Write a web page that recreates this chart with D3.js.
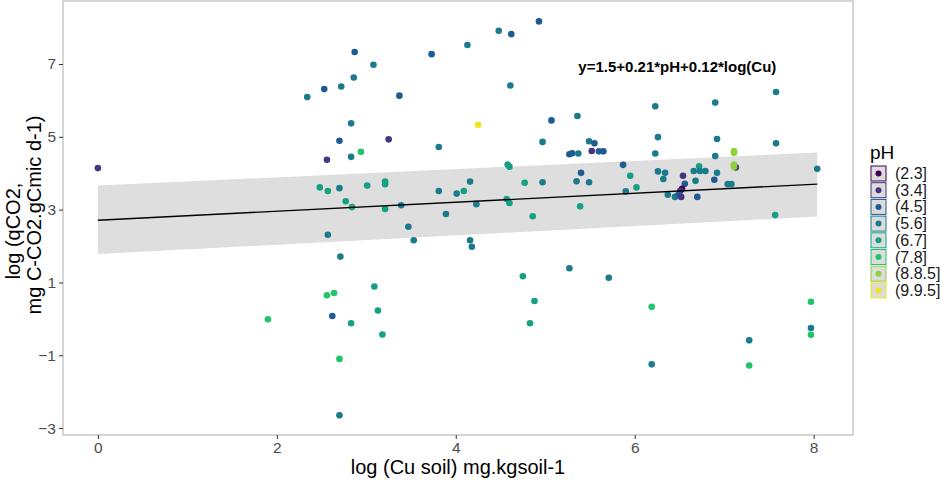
<!DOCTYPE html>
<html>
<head>
<meta charset="utf-8">
<script src="https://cdn.jsdelivr.net/npm/d3@7"></script>
<style>
  body { margin: 0; background: #fff; }
  text { font-family: Arial, "Liberation Sans", sans-serif; }
</style>
</head>
<body>
<div id="chart"></div>
<script>
// pH classes, in legend order
const phLevels = ["(2.3]", "(3.4]", "(4.5]", "(5.6]", "(6.7]", "(7.8]", "(8.8.5]", "(9.9.5]"];
const phColors = ["#440154", "#463480", "#1f5b93", "#1b7b8d", "#15a083", "#22c46a", "#8fd13a", "#f2e51d"];

// log(Cu soil), log(qCO2), pH class index
const logCu = [0.00, 1.90, 2.87, 3.73, 3.08, 2.86, 2.53, 2.72, 2.34, 3.37, 2.83, 2.70, 3.25, 2.94, 2.56, 2.83, 3.81,
  2.48, 2.57, 2.70, 3.01, 3.21, 3.21, 2.77, 2.84, 3.21, 3.39, 3.81, 4.01, 3.89, 2.57, 3.47, 3.53, 2.71, 3.09, 2.56,
  2.64, 2.62, 2.83, 3.13, 3.18, 2.70, 2.70, 4.93, 4.48, 4.62, 4.13, 4.61, 4.25, 5.07, 5.36, 6.23, 6.26, 4.97, 5.49,
  5.55, 5.52, 5.27, 5.30, 5.37, 5.60, 5.65, 6.23, 4.58, 4.60, 5.87, 5.40, 5.95, 6.26, 4.09, 4.16, 4.77, 4.97, 5.35,
  5.49, 6.02, 5.90, 4.23, 4.57, 4.60, 5.39, 4.86, 4.16, 4.18, 5.27, 4.75, 5.71, 4.88, 6.19, 4.83, 6.19, 7.58, 6.90,
  6.92, 7.58, 6.90, 7.13, 7.11, 7.11, 7.11, 7.11, 6.34, 6.32, 6.66, 6.72, 6.73, 6.79, 6.92, 6.89, 6.68, 6.54, 6.56,
  6.53, 6.51, 7.04, 7.08, 6.37, 6.45, 6.49, 6.52, 6.70, 8.04, 7.57, 7.28, 7.28, 7.97, 7.97, 7.97];
const logQco2 = [4.14, -0.01, 7.33, 7.27, 6.98, 6.63, 6.31, 6.38, 6.09, 6.13, 5.37, 4.89, 4.93, 4.59, 4.37, 4.45, 4.72,
  3.61, 3.51, 3.59, 3.66, 3.77, 3.70, 3.23, 3.07, 3.02, 3.12, 3.51, 3.44, 2.88, 2.31, 2.53, 2.16, 1.71, 0.89, 0.65,
  0.71, 0.08, -0.12, 0.23, -0.43, -1.10, -2.65, 8.17, 7.91, 7.82, 7.52, 6.41, 5.33, 5.45, 5.57, 5.84, 4.99, 4.86, 4.88,
  4.82, 4.61, 4.52, 4.55, 4.54, 4.60, 4.60, 4.54, 4.24, 4.18, 4.23, 4.01, 3.93, 4.05, 3.51, 3.77, 3.74, 3.75, 3.78,
  3.75, 3.61, 3.50, 3.15, 3.29, 3.18, 3.09, 2.82, 2.16, 1.98, 1.39, 1.17, 1.13, 0.49, 0.33, -0.12, -1.25, 6.23, 5.94,
  4.94, 4.82, 4.47, 4.16, 4.61, 4.56, 4.24, 4.18, 4.01, 3.84, 4.06, 4.19, 4.06, 4.06, 4.01, 3.82, 3.79, 3.93, 3.71,
  3.57, 3.52, 3.70, 3.70, 3.41, 3.35, 3.41, 3.35, 3.35, 4.12, 2.85, -0.59, -1.28, 0.47, -0.25, -0.44];
const phClass = [1, 5, 2, 2, 3, 3, 2, 3, 3, 2, 3, 2, 1, 5, 1, 3, 3,
  4, 4, 3, 4, 4, 4, 4, 4, 4, 3, 3, 3, 3, 3, 3, 3, 3, 4, 5,
  5, 2, 4, 4, 4, 5, 3, 2, 3, 2, 3, 3, 7, 2, 3, 3, 3, 3, 3,
  2, 1, 2, 2, 3, 2, 2, 3, 4, 4, 2, 2, 4, 3, 4, 3, 4, 3, 3,
  3, 4, 3, 3, 4, 4, 4, 4, 3, 3, 3, 4, 3, 4, 5, 4, 3, 3, 3,
  3, 3, 3, 1, 6, 6, 6, 6, 3, 3, 3, 4, 3, 3, 3, 2, 3, 1, 2,
  0, 1, 3, 3, 3, 3, 2, 1, 2, 3, 4, 3, 5, 5, 3, 5];

// fitted line and shaded band at both ends of the fit
const fitX = [0, 8.04];
const fitY = [2.71, 3.70];
const bandLow = [1.78, 2.81];
const bandHigh = [3.66, 4.57];

const xTicks = [0, 2, 4, 6, 8];
const yTicks = [-3, -1, 1, 3, 5, 7];
const equation = "y=1.5+0.21*pH+0.12*log(Cu)";

const W = 941, H = 480;
const panel = { left: 63, right: 853, top: 1, bottom: 435 };

const svg = d3.select("#chart").append("svg")
  .attr("width", W).attr("height", H);

const x = d3.scaleLinear().domain([-0.39, 8.44]).range([panel.left, panel.right]);
const y = d3.scaleLinear().domain([-3.19, 8.73]).range([panel.bottom, panel.top]);

// band
const bandData = fitX.map((v, i) => ({ x: v, lo: bandLow[i], hi: bandHigh[i] }));
svg.append("path")
  .datum(bandData)
  .attr("fill", "#dedede")
  .attr("d", d3.area().x(d => x(d.x)).y0(d => y(d.lo)).y1(d => y(d.hi)));

// points
const pts = logCu.map((v, i) => ({ x: v, y: logQco2[i], c: phClass[i] }));
svg.append("g").selectAll("circle")
  .data(pts)
  .enter()
  .append("circle")
  .attr("cx", d => x(d.x))
  .attr("cy", d => y(d.y))
  .attr("r", 3.3)
  .attr("fill", d => phColors[d.c]);

// fit line
svg.append("path")
  .datum(fitX.map((v, i) => ({ x: v, y: fitY[i] })))
  .attr("fill", "none")
  .attr("stroke", "#000")
  .attr("stroke-width", 1.4)
  .attr("d", d3.line().x(d => x(d.x)).y(d => y(d.y)));

// panel border
svg.append("rect")
  .attr("x", panel.left).attr("y", panel.top)
  .attr("width", panel.right - panel.left).attr("height", panel.bottom - panel.top)
  .attr("fill", "none").attr("stroke", "#b3b3b3").attr("stroke-width", 1.1);

// axes
const xAxis = svg.append("g")
  .attr("transform", "translate(0," + panel.bottom + ")")
  .call(d3.axisBottom(x).tickValues(xTicks).tickSize(4).tickPadding(3));
const yAxis = svg.append("g")
  .attr("transform", "translate(" + panel.left + ",0)")
  .call(d3.axisLeft(y).tickValues(yTicks).tickSize(4).tickPadding(3));
[xAxis, yAxis].forEach(a => {
  a.select(".domain").remove();
  a.selectAll("line").attr("stroke", "#333");
  a.selectAll("text").attr("fill", "#4d4d4d").style("font-size", "15.5px");
});

// titles
svg.append("text")
  .attr("x", (panel.left + panel.right) / 2).attr("y", 474)
  .attr("text-anchor", "middle").style("font-size", "20px")
  .text("log (Cu soil) mg.kgsoil-1");

svg.append("text")
  .attr("transform", "translate(20,231) rotate(-90)")
  .attr("text-anchor", "middle").style("font-size", "20px")
  .text("log (qCO2,");
svg.append("text")
  .attr("transform", "translate(41,215) rotate(-90)")
  .attr("text-anchor", "middle").style("font-size", "20px")
  .text("mg C-CO2.gCmic d-1)");

// equation
svg.append("text")
  .attr("x", x(5.37)).attr("y", y(6.79))
  .style("font-size", "15px").style("font-weight", "bold")
  .text(equation);

// legend
const lg = svg.append("g").attr("transform", "translate(870,0)");
lg.append("text").attr("x", 0).attr("y", 159).style("font-size", "19px").text("pH");
phLevels.forEach((lab, i) => {
  const ty = 166 + i * 16.7;
  lg.append("rect").attr("x", 1).attr("y", ty).attr("width", 15).attr("height", 15)
    .attr("fill", "#dcdcdc").attr("stroke", phColors[i]).attr("stroke-width", 1);
  lg.append("circle").attr("cx", 8.5).attr("cy", ty + 7.5).attr("r", 3).attr("fill", phColors[i]);
  lg.append("text").attr("x", 25).attr("y", ty + 13).style("font-size", "16px").attr("fill", "#1a1a1a").text(lab);
});
</script>
</body>
</html>
